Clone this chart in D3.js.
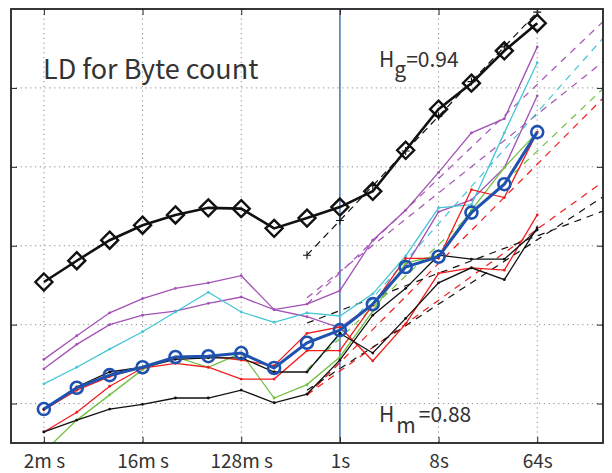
<!DOCTYPE html>
<html><head><meta charset="utf-8">
<script src="https://cdn.jsdelivr.net/npm/d3@7"></script>
<style>
html,body{margin:0;padding:0;background:#fff;}
svg text{font-family:"Noto Sans CJK JP","Noto Sans",sans-serif;fill:#333;}
</style></head>
<body><svg id="c" width="612" height="473"></svg>
<script>
// time scales (ms), one per octave
const scalesMs = [2,4,8,16,32,64,128,256,512,1024,2048,4096,8192,16384,32768,65536];
const tickMs = [2,16,128,1024,8192,65536];
const tickLabels = ["2m s","16m s","128m s","1s","8s","64s"];
const yGridVals = [1,2,3,4,5];

// log-diagram values (log2 energy units)
const globalLD = [2.54,2.81,3.07,3.26,3.39,3.48,3.47,3.22,3.35,3.49,3.69,4.21,4.73,5.06,5.47,5.82];
const meanLD   = [0.93,1.20,1.36,1.46,1.59,1.60,1.64,1.45,1.77,1.93,2.26,2.73,2.86,3.42,3.78,4.44];
const purpleA  = [1.56,1.86,2.15,2.33,2.46,2.53,2.62,2.19,2.26,2.43,3.07,3.45,3.93,4.43,4.61,5.52];
const purpleB  = [1.44,1.75,2.00,2.12,2.17,2.27,2.35,2.19,2.10,1.96,2.26,2.74,3.43,3.58,3.99,4.90];
const cyanS    = [1.25,1.46,1.69,1.91,2.16,2.41,2.16,2.03,2.15,2.11,2.39,2.87,3.48,3.52,4.43,5.32];
const greenS   = [0.39,0.79,1.11,1.43,1.59,1.46,1.64,1.07,1.24,1.59,2.17,2.78,2.88,3.45,3.99,4.44];
const redA     = [0.92,1.17,1.34,1.46,1.58,1.60,1.55,1.48,1.89,1.97,1.54,2.01,2.65,2.72,2.69,3.39];
const redB     = [0.64,0.89,1.22,1.45,1.51,1.46,1.31,1.31,1.67,1.67,2.25,2.84,2.84,3.71,3.61,4.44];
const blackA   = [0.93,1.21,1.40,1.46,1.56,1.58,1.58,1.40,1.40,1.89,1.64,2.08,2.53,2.72,2.57,3.23];
const blackB   = [0.64,0.79,0.93,0.99,1.07,1.07,1.17,1.01,1.12,1.55,2.12,2.46,2.88,2.83,2.83,3.20];

// fitted lines: [value at start, value at end]
const fitStartMs = 512, fitEndMs = 262144;
const fitPurpleA = [2.26,5.84];
const fitPurpleB = [2.34,5.33];
const fitCyan    = [1.40,5.63];
const fitGreen   = [1.43,4.99];
const fitRedB    = [1.10,4.87];
const fitRedA    = [1.11,3.81];
const fitBlackA  = [1.17,3.62];
const fitBlackB  = [2.02,3.44];
const globalFitMs = [512,1024,2048,4096,8192,16384,32768,65536];
const globalFit   = [2.88,3.32,3.76,4.20,4.64,5.08,5.52,5.96];

const COL = {purple:"#a352b5", cyan:"#45c6d6", green:"#72c043", red:"#f01d1d", black:"#111111", blue:"#1f52b0"};

const svg = d3.select("#c");
const L=11, R=603, T=9, B=443;
const x = d3.scaleLog().base(2).domain([1,262144]).range([L,R]);
const y = d3.scaleLinear().domain([0.5,6]).range([B,T]);

svg.append("defs").append("clipPath").attr("id","clip")
  .append("rect").attr("x",L).attr("y",T).attr("width",R-L).attr("height",B-T);

// grid
const grid = svg.append("g").attr("stroke","#8a8a8a").attr("stroke-width",1).attr("stroke-dasharray","1.2,3.6");
grid.selectAll(".gv").data(tickMs).join("line")
  .attr("x1",d=>x(d)).attr("x2",d=>x(d)).attr("y1",T).attr("y2",B);
grid.selectAll(".gh").data(yGridVals).join("line")
  .attr("x1",L).attr("x2",R).attr("y1",d=>y(d)).attr("y2",d=>y(d));

// 1s marker line
svg.append("line").attr("x1",x(1024)).attr("x2",x(1024)).attr("y1",T).attr("y2",B)
  .attr("stroke","#6489c4").attr("stroke-width",1.8);

const plot = svg.append("g").attr("clip-path","url(#clip)");
const line = d3.line().x(d=>x(d[0])).y(d=>y(d[1]));

// fitted dashed lines
const fits = [
  [fitPurpleA,COL.purple],[fitPurpleB,COL.purple],[fitCyan,COL.cyan],[fitGreen,COL.green],
  [fitRedB,COL.red],[fitRedA,COL.red],[fitBlackA,COL.black],[fitBlackB,COL.black]
];
fits.forEach(([f,c])=>{
  plot.append("path").attr("d",line([[fitStartMs,f[0]],[fitEndMs,f[1]]]))
    .attr("fill","none").attr("stroke",c).attr("stroke-width",1.2).attr("stroke-dasharray","7,6");
});

// thin series
const thin = [
  [purpleA,COL.purple],[purpleB,COL.purple],[cyanS,COL.cyan],[greenS,COL.green],
  [redA,COL.red],[redB,COL.red],[blackA,COL.black],[blackB,COL.black]
];
thin.forEach(([s,c])=>{
  const pts = scalesMs.map((m,i)=>[m,s[i]]);
  plot.append("path").attr("d",line(pts)).attr("fill","none").attr("stroke",c).attr("stroke-width",1.3);
  plot.selectAll(null).data(pts).join("circle").attr("cx",d=>x(d[0])).attr("cy",d=>y(d[1]))
    .attr("r",1.4).attr("fill",c);
});

// global fit with + markers
const gfPts = globalFitMs.map((m,i)=>[m,globalFit[i]]);
plot.append("path").attr("d",line(gfPts)).attr("fill","none").attr("stroke","#111")
  .attr("stroke-width",1.2).attr("stroke-dasharray","7,5");
plot.selectAll(null).data(gfPts).join("path")
  .attr("d",d=>{const cx=x(d[0]),cy=y(d[1]);return `M${cx-4},${cy}H${cx+4}M${cx},${cy-4}V${cy+4}`;})
  .attr("stroke","#111").attr("stroke-width",1.1);

// mean series (blue circles)
const mPts = scalesMs.map((m,i)=>[m,meanLD[i]]);
plot.append("path").attr("d",line(mPts)).attr("fill","none").attr("stroke",COL.blue).attr("stroke-width",3);
plot.selectAll(null).data(mPts).join("circle").attr("cx",d=>x(d[0])).attr("cy",d=>y(d[1]))
  .attr("r",6).attr("fill","none").attr("stroke",COL.blue).attr("stroke-width",2.6);

// global series (diamonds)
const gPts = scalesMs.map((m,i)=>[m,globalLD[i]]);
plot.append("path").attr("d",line(gPts)).attr("fill","none").attr("stroke","#111").attr("stroke-width",2.6);
plot.selectAll(null).data(gPts).join("path")
  .attr("d",d=>{const cx=x(d[0]),cy=y(d[1]),r=8.5;return `M${cx},${cy-r}L${cx+r},${cy}L${cx},${cy+r}L${cx-r},${cy}Z`;})
  .attr("fill","none").attr("stroke","#111").attr("stroke-width",2.4);

// axes
const axB = d3.axisBottom(x).tickValues(tickMs).tickFormat((d,i)=>tickLabels[i]).tickSizeInner(-6).tickSizeOuter(0).tickPadding(12);
const gB = svg.append("g").attr("transform",`translate(0,${B})`).call(axB);
gB.selectAll("text").attr("font-size",19).attr("fill","#333");
const axT = d3.axisTop(x).tickValues(tickMs).tickFormat("").tickSizeInner(-6).tickSizeOuter(0);
svg.append("g").attr("transform",`translate(0,${T})`).call(axT);
const axL = d3.axisLeft(y).tickValues(yGridVals).tickFormat("").tickSizeInner(-6).tickSizeOuter(0);
svg.append("g").attr("transform",`translate(${L},0)`).call(axL);
const axR = d3.axisRight(y).tickValues(yGridVals).tickFormat("").tickSizeInner(-6).tickSizeOuter(0);
svg.append("g").attr("transform",`translate(${R},0)`).call(axR);
svg.selectAll(".domain").remove();
svg.selectAll(".tick line").attr("stroke","#222");

// frame
svg.append("rect").attr("x",L).attr("y",T).attr("width",R-L).attr("height",B-T)
  .attr("fill","none").attr("stroke","#222").attr("stroke-width",1.8);

// texts
svg.append("text").attr("x",43).attr("y",79).attr("font-size",27).text("LD for Byte count");
const hg = svg.append("text").attr("x",379).attr("y",67).attr("font-size",21);
hg.append("tspan").text("H");
hg.append("tspan").attr("dy",10).text("g");
hg.append("tspan").attr("dy",-10).text("=0.94");
const hm = svg.append("text").attr("x",379).attr("y",422).attr("font-size",21);
hm.append("tspan").text("H");
hm.append("tspan").attr("dy",11).attr("dx",2).text("m");
hm.append("tspan").attr("dy",-11).attr("dx",3).text("=0.88");
</script></body></html>
